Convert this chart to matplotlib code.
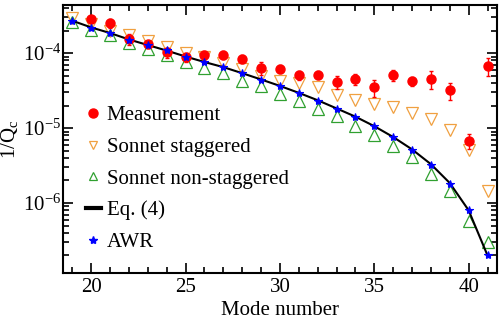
import matplotlib as mpl
mpl.use('Agg')
import matplotlib.pyplot as plt
from matplotlib.lines import Line2D
from matplotlib.ticker import LogLocator, NullFormatter, MultipleLocator

plt.rcParams['font.family'] = ['Liberation Serif', 'DejaVu Serif']
plt.rcParams['mathtext.fontset'] = 'custom'
plt.rcParams['mathtext.rm'] = 'Liberation Serif'
plt.rcParams['mathtext.it'] = 'Liberation Serif:italic'

# mode numbers
modes = list(range(19, 42))
meas_modes = list(range(20, 42))

measurement = [2.84e-4, 2.5e-4, 1.54e-4, 1.32e-4, 1.02e-4, 0.885e-4, 0.95e-4, 0.95e-4,
               0.83e-4, 6.4e-5, 6.2e-5, 5.1e-5, 5.1e-5, 4.1e-5, 4.5e-5, 3.5e-5,
               5.1e-5, 4.2e-5, 4.5e-5, 3.2e-5, 6.8e-6, 6.8e-5]
meas_err = [0.3e-4, 0.35e-4, 0.25e-4, 0.15e-4, 0.15e-4, 0.13e-4, 0.11e-4, 0.11e-4,
            0.10e-4, 1.3e-5, 0.75e-5, 0.7e-5, 0.6e-5, 0.8e-5, 0.7e-5, 0.9e-5,
            0.8e-5, 0.6e-5, 1.2e-5, 0.8e-5, 1.6e-6, 1.8e-5]

sonnet_stag = [2.93e-4, 2.44e-4, 1.98e-4, 1.74e-4, 1.45e-4, 1.21e-4, 1.0e-4, 0.9e-4,
               7.4e-5, 6.2e-5, 5.0e-5, 4.27e-5, 4.0e-5, 3.5e-5, 2.8e-5, 2.36e-5,
               2.1e-5, 1.9e-5, 1.61e-5, 1.34e-5, 9.5e-6, 5.1e-6, 1.47e-6]

sonnet_nonstag = [2.59e-4, 2.05e-4, 1.72e-4, 1.36e-4, 1.14e-4, 0.95e-4, 7.7e-5, 6.4e-5,
                  5.5e-5, 4.3e-5, 3.66e-5, 2.84e-5, 2.33e-5, 1.79e-5, 1.43e-5, 1.07e-5,
                  8.1e-6, 5.7e-6, 4.1e-6, 2.44e-6, 1.47e-6, 5.8e-7, 2.99e-7]

awr = [2.67e-4, 2.17e-4, 1.88e-4, 1.5e-4, 1.3e-4, 1.1e-4, 0.9e-4, 7.7e-5,
       6.6e-5, 5.4e-5, 4.4e-5, 3.6e-5, 2.93e-5, 2.33e-5, 1.82e-5, 1.42e-5,
       1.05e-5, 7.6e-6, 5.1e-6, 3.24e-6, 1.81e-6, 7.96e-7, 2.0e-7]

eq4 = [2.7e-4, 2.2e-4, 1.85e-4, 1.52e-4, 1.28e-4, 1.08e-4, 0.9e-4, 7.6e-5,
       6.5e-5, 5.4e-5, 4.45e-5, 3.65e-5, 2.95e-5, 2.35e-5, 1.83e-5, 1.42e-5,
       1.06e-5, 7.6e-6, 5.2e-6, 3.3e-6, 1.85e-6, 8.0e-7, 2.0e-7]

red, orange, green, blue = '#ff0000', '#f0a040', '#30a030', '#0000ff'

fig = plt.figure(figsize=(5.03, 3.23), dpi=100)
ax = fig.add_axes([0.125, 0.155, 0.863, 0.830])

ax.errorbar(meas_modes, measurement, yerr=meas_err, fmt='o', color=red,
            ms=6.5, elinewidth=1, capsize=1.5, zorder=5)
ax.plot(modes, sonnet_stag, 'v', mfc='none', mec=orange, ms=8, mew=0.9)
ax.plot(modes, sonnet_nonstag, '^', mfc='none', mec=green, ms=8, mew=0.9)
ax.plot(modes, eq4, '-', color='black', lw=1.5)
ax.plot(modes, awr, '*', color=blue, ms=6, mew=0.8, zorder=6)

ax.set_yscale('log')
ax.set_xlim(18.5, 41.5)
ax.set_ylim(1.17e-7, 4.4e-4)
ax.set_xticks([20, 25, 30, 35, 40])
ax.xaxis.set_minor_locator(MultipleLocator(1))
ax.yaxis.set_minor_locator(LogLocator(base=10, subs=range(2, 10), numticks=20))
ax.yaxis.set_minor_formatter(NullFormatter())
ax.set_yticks([1e-6, 1e-5, 1e-4])
ax.set_yticklabels([r'10$^{-6}$', r'10$^{-5}$', r'10$^{-4}$'])

ax.tick_params(which='both', direction='in', top=True, right=True, labelsize=15,
               width=1.2)
ax.tick_params(axis='y', pad=1)
ax.tick_params(which='major', length=7)
ax.tick_params(which='minor', length=4)
for s in ax.spines.values():
    s.set_linewidth(1.5)

ax.set_xlabel('Mode number', fontsize=15, labelpad=3)
ax.set_ylabel(r'1/Q$_\mathrm{c}$', fontsize=15, labelpad=2)

handles = [
    Line2D([], [], ls='none', marker='o', color=red, ms=6.5),
    Line2D([], [], ls='none', marker='v', mfc='none', mec=orange, ms=6, mew=0.9),
    Line2D([], [], ls='none', marker='^', mfc='none', mec=green, ms=6, mew=0.9),
    Line2D([], [], color='black', lw=3),
    Line2D([], [], ls='none', marker='*', color=blue, ms=6),
]
labels = ['Measurement', 'Sonnet staggered', 'Sonnet non-staggered', 'Eq. (4)', 'AWR']
ax.legend(handles, labels, loc='upper left', bbox_to_anchor=(0.034, 0.655), frameon=False,
          fontsize=15, handlelength=0.7, handletextpad=0.3, labelspacing=0.58,
          borderaxespad=0)

fig.savefig('out.png', dpi=100)
